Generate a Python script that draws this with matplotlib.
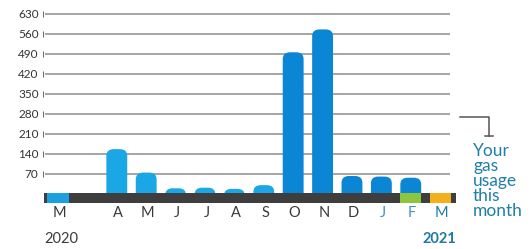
import matplotlib
matplotlib.use('Agg')
import matplotlib.pyplot as plt
from matplotlib.patches import FancyBboxPatch, Rectangle

plt.rcParams['font.family'] = ['Lato', 'DejaVu Sans']

# data
months = ['M', '', 'A', 'M', 'J', 'J', 'A', 'S', 'O', 'N', 'D', 'J', 'F', 'M']
usage = [None, None, 157, 75, 20, 22, 18, 31, 496, 576, 63, 61, 57, None]
yticks = [70, 140, 210, 280, 350, 420, 490, 560, 630]
years = ['2020', '2021']

light_blue = '#1ba7e6'
dark_blue = '#0a86d4'
bar_colors = [light_blue] * 8 + [dark_blue] * 6
label_colors = ['#3a3a3a'] * 11 + ['#3f8ec6', '#3f8ec6', '#1f78a8']
strip_marks = {0: '#1aa0e0', 12: '#8cc63f', 13: '#f2b01e'}

fig = plt.figure(figsize=(5.31, 2.49), dpi=100)
ax = fig.add_axes([0, 0, 1, 1])
ax.set_xlim(-1.973, 16.09)
ax.set_ylim(-192.5, 679)
ax.axis('off')

# grid lines and little ticks
ax.hlines(yticks, -0.45, 13.33, color='#9a9a9a', lw=1.25, zorder=1)
ax.plot([-0.52] * len(yticks), yticks, ls='none', marker='|', ms=4,
        mew=0.8, color='#707070')
for v in yticks:
    ax.text(-0.66, v, str(v), ha='right', va='center', fontsize=8.5,
            color='#333333')

# bars with rounded tops (bottom hidden under the strip)
xs = [i for i, u in enumerate(usage) if u is not None]
hs = [usage[i] for i in xs]
bars = ax.bar(xs, [h + 30 for h in hs], bottom=-30, width=0.71)
for i, b in zip(xs, bars):
    b.remove()
    p = FancyBboxPatch((b.get_x(), b.get_y()), b.get_width(), b.get_height(),
                       boxstyle='round,pad=0,rounding_size=0.25',
                       mutation_aspect=95, fc=bar_colors[i], ec='none',
                       zorder=2)
    ax.add_patch(p)

# dark strip along the bottom with coloured markers
ax.add_patch(Rectangle((-0.48, -30), 14.03, 32, fc='#3e3e3e', ec='none',
                       zorder=3))
for i, c in strip_marks.items():
    ax.add_patch(Rectangle((i - 0.36, -30), 0.72, 32, fc=c, ec='none',
                           zorder=4))

for i, m in enumerate(months):
    ax.text(i + 0.05, -66, m, ha='center', va='center', fontsize=10.5,
            color=label_colors[i])
ax.text(0.1, -157, years[0], ha='center', va='center', fontsize=10.5,
        color='#3a3a3a')
ax.text(12.97, -157, years[1], ha='center', va='center', fontsize=10.5,
        color='#1f78a8', fontweight='bold')

# bracket and note on the right
ax.plot([13.67, 14.66, 14.66], [268, 268, 204], color='#555555', lw=1.1)
ax.plot([14.52, 14.8], [204, 204], color='#555555', lw=1.1)
ax.text(14.12, 177, 'Your\ngas\nusage\nthis\nmonth', ha='left', va='top',
        fontsize=12.5, linespacing=0.92, color='#1f7fa8')

fig.savefig('out.png', dpi=100)
